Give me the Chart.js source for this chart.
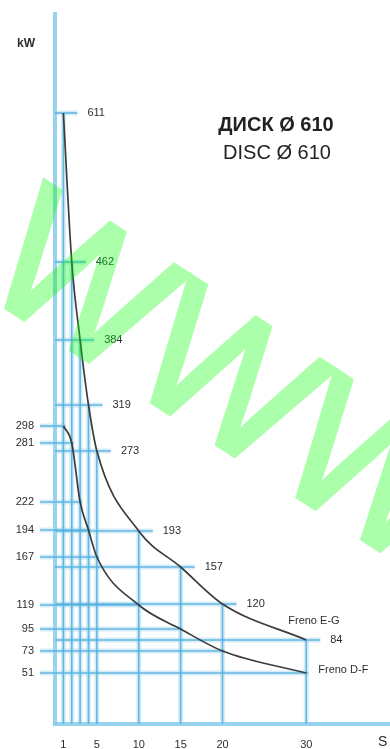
<!DOCTYPE html>
<html>
<head>
<meta charset="utf-8">
<script src="https://cdn.jsdelivr.net/npm/chart.js@4"></script>
<style>
  html, body { margin: 0; padding: 0; background: #fff; overflow: hidden; }
  canvas { display: block; }
</style>
</head>
<body>
<canvas id="chart" width="390" height="749"></canvas>
<script>
// Braking power (kW) against braking time (s), disc Ø 610
const times = [1, 2, 3, 4, 5, 10, 15, 20, 30];
const frenoEG = [611, 462, 384, 319, 273, 193, 157, 120, 84];
const frenoDF = [298, 281, 222, 194, 167, 119, 95, 73, 51];
const xTickValues = [1, 5, 10, 15, 20, 30];
const yTickValues = [51, 73, 95, 119, 167, 194, 222, 281, 298];
const seriesNames = ['Freno E-G', 'Freno D-F'];
const titleLines = ['ДИСК Ø 610', 'DISC Ø 610'];
const yUnit = 'kW';
const xUnit = 'S';
const watermarkText = 'WWW';

const FONT = "'Liberation Sans', Arial, sans-serif";
const LABEL_COLOR = '#2e2e2e';

const toPoints = vals => times.map((t, i) => ({ x: t, y: vals[i] }));

// Light blue reference lines: from each axis to every point of both curves
const guideLines = {
  id: 'guideLines',
  beforeDatasetsDraw(chart) {
    const { ctx, scales: { x, y } } = chart;
    const x0 = x.getPixelForValue(0);
    const y0 = y.getPixelForValue(0);
    const segs = [];
    times.forEach((t, i) => {
      const px = x.getPixelForValue(t);
      const pu = y.getPixelForValue(frenoEG[i]);
      const pl = y.getPixelForValue(frenoDF[i]);
      segs.push([px, y0, px, pu]);
      segs.push([x0, pu, px + 14, pu]);
      segs.push([x0 - 15, pl, px + 2, pl]);
    });
    ctx.save();
    ctx.lineCap = 'butt';
    [[5, 'rgba(160,214,240,0.45)'], [1.6, 'rgba(80,175,222,0.85)']].forEach(([w, c]) => {
      ctx.lineWidth = w;
      ctx.strokeStyle = c;
      segs.forEach(s => {
        ctx.beginPath();
        ctx.moveTo(s[0], s[1]);
        ctx.lineTo(s[2], s[3]);
        ctx.stroke();
      });
    });
    ctx.restore();
  }
};

// Value labels of the upper curve, series names, axis units and heading
const chartText = {
  id: 'chartText',
  afterDatasetsDraw(chart) {
    const { ctx, scales: { x, y } } = chart;
    ctx.save();
    ctx.fillStyle = LABEL_COLOR;
    ctx.font = `11px ${FONT}`;
    ctx.textAlign = 'left';
    ctx.textBaseline = 'middle';
    times.forEach((t, i) => {
      ctx.fillText(String(frenoEG[i]), x.getPixelForValue(t) + 24, y.getPixelForValue(frenoEG[i]));
    });
    const last = times.length - 1;
    const xe = x.getPixelForValue(times[last]);
    ctx.fillText(seriesNames[0], xe - 18, y.getPixelForValue(frenoEG[last]) - 19);
    ctx.fillText(seriesNames[1], xe + 12, y.getPixelForValue(frenoDF[last]) - 3);

    ctx.font = `bold 12px ${FONT}`;
    ctx.textAlign = 'center';
    ctx.fillText(yUnit, 26, 44);
    ctx.font = `14px ${FONT}`;
    ctx.textAlign = 'left';
    ctx.fillText(xUnit, 378, 742);

    ctx.fillStyle = '#222';
    ctx.textAlign = 'center';
    ctx.font = `bold 20px ${FONT}`;
    ctx.fillText(titleLines[0], 276, 125);
    ctx.font = `20px ${FONT}`;
    ctx.fillText(titleLines[1], 277, 153);
    ctx.restore();
  }
};

// Green diagonal overlay text, painted solid off-screen then laid over at low opacity
const watermark = {
  id: 'watermark',
  afterDraw(chart) {
    const { ctx, width, height } = chart;
    const off = document.createElement('canvas');
    off.width = width;
    off.height = height;
    const o = off.getContext('2d');
    o.translate(-25, 287);
    o.rotate(33 * Math.PI / 180);
    o.font = `184px ${FONT}`;
    o.textAlign = 'left';
    o.textBaseline = 'alphabetic';
    o.fillStyle = '#00ff00';
    o.strokeStyle = '#00ff00';
    o.lineWidth = 5;
    o.lineJoin = 'miter';
    o.fillText(watermarkText, 0, 0);
    o.strokeText(watermarkText, 0, 0);
    ctx.save();
    ctx.globalAlpha = 0.33;
    ctx.drawImage(off, 0, 0);
    ctx.restore();
  }
};

const axisBorder = { display: true, color: 'rgba(140,205,236,0.9)', width: 4 };

new Chart(document.getElementById('chart'), {
  type: 'line',
  data: {
    datasets: [
      { label: seriesNames[0], data: toPoints(frenoEG) },
      { label: seriesNames[1], data: toPoints(frenoDF) }
    ].map(d => Object.assign(d, {
      borderColor: '#3c3c3c',
      borderWidth: 1.7,
      pointRadius: 0,
      fill: false,
      cubicInterpolationMode: 'monotone'
    }))
  },
  options: {
    responsive: false,
    animation: false,
    devicePixelRatio: 1,
    layout: { padding: { top: 14, right: 0, left: 0, bottom: 0 } },
    plugins: { legend: { display: false }, tooltip: { enabled: false } },
    scales: {
      x: {
        type: 'linear',
        min: 0,
        max: 40,
        grid: { display: false, drawTicks: false },
        border: axisBorder,
        afterBuildTicks: s => { s.ticks = xTickValues.map(v => ({ value: v })); },
        afterFit: s => { s.height = 25; s.paddingLeft = 0; s.paddingRight = 0; },
        ticks: { color: LABEL_COLOR, font: { size: 11, family: FONT }, padding: 14, maxRotation: 0, autoSkip: false }
      },
      y: {
        type: 'linear',
        min: 0,
        max: 710,
        grid: { display: false, drawTicks: false },
        border: axisBorder,
        afterBuildTicks: s => { s.ticks = yTickValues.map(v => ({ value: v })); },
        afterFit: s => { s.width = 55; s.paddingTop = 0; s.paddingBottom = 0; },
        ticks: { color: LABEL_COLOR, font: { size: 11, family: FONT }, padding: 21, autoSkip: false }
      }
    }
  },
  plugins: [guideLines, chartText, watermark]
});
</script>
</body>
</html>
